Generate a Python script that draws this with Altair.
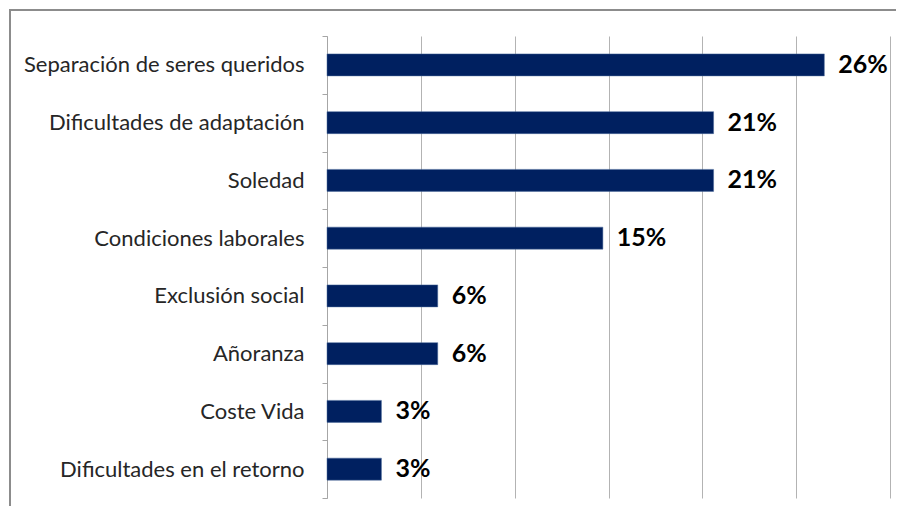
import altair as alt
import pandas as pd

categories = [
    "Separación de seres queridos",
    "Dificultades de adaptación",
    "Soledad",
    "Condiciones laborales",
    "Exclusión social",
    "Añoranza",
    "Coste Vida",
    "Dificultades en el retorno",
]
values = [26.5, 20.6, 20.6, 14.7, 5.9, 5.9, 2.9, 2.9]
labels = ["26%", "21%", "21%", "15%", "6%", "6%", "3%", "3%"]
x_ticks = [0, 5, 10, 15, 20, 25, 30]

df = pd.DataFrame({"cat": categories, "val": values, "lab": labels})

W, H = 563, 462
FONT = "Lato"

y_enc = alt.Y(
    "cat:N",
    sort=categories,
    title=None,
    scale=alt.Scale(paddingInner=0, paddingOuter=0),
    axis=alt.Axis(
        labelFont=FONT,
        labelFontSize=22,
        labelColor="#262626",
        labelPadding=18,
        labelLimit=400,
        domainColor="#a6a6a6",
        tickColor="#a6a6a6",
        tickSize=5,
        tickBand="extent",
        grid=False,
    ),
)
x_enc = alt.X(
    "val:Q",
    title=None,
    scale=alt.Scale(domain=[0, 30], nice=False),
    axis=alt.Axis(
        values=x_ticks,
        labels=False,
        ticks=False,
        domain=False,
        grid=True,
        gridColor="#b3b3b3",
        gridWidth=1,
    ),
)

bars = alt.Chart(df).mark_bar(size=22, color="#002060", stroke="#4a6a9a", strokeWidth=0.5).encode(
    y=y_enc, x=x_enc
)

text = alt.Chart(df).mark_text(
    align="left", baseline="middle", dx=14, font=FONT, fontSize=25,
    fontWeight="bold", color="#000000"
).encode(y=alt.Y("cat:N", sort=categories), x="val:Q", text="lab:N")

frame = alt.Chart(df).mark_rect(fill=None, stroke="#8c8c8c", strokeWidth=1.5).encode(
    x=alt.value(-317), x2=alt.value(W + 200), y=alt.value(-26), y2=alt.value(H + 200)
)

chart = (
    alt.layer(frame, bars, text)
    .properties(
        width=W,
        height=H,
        autosize="none",
        padding={"left": 319, "top": 28, "right": 6, "bottom": 8},
    )
    .configure_view(stroke=None)
)

chart.save("out.html", embed_options={"renderer": "svg", "actions": False})
